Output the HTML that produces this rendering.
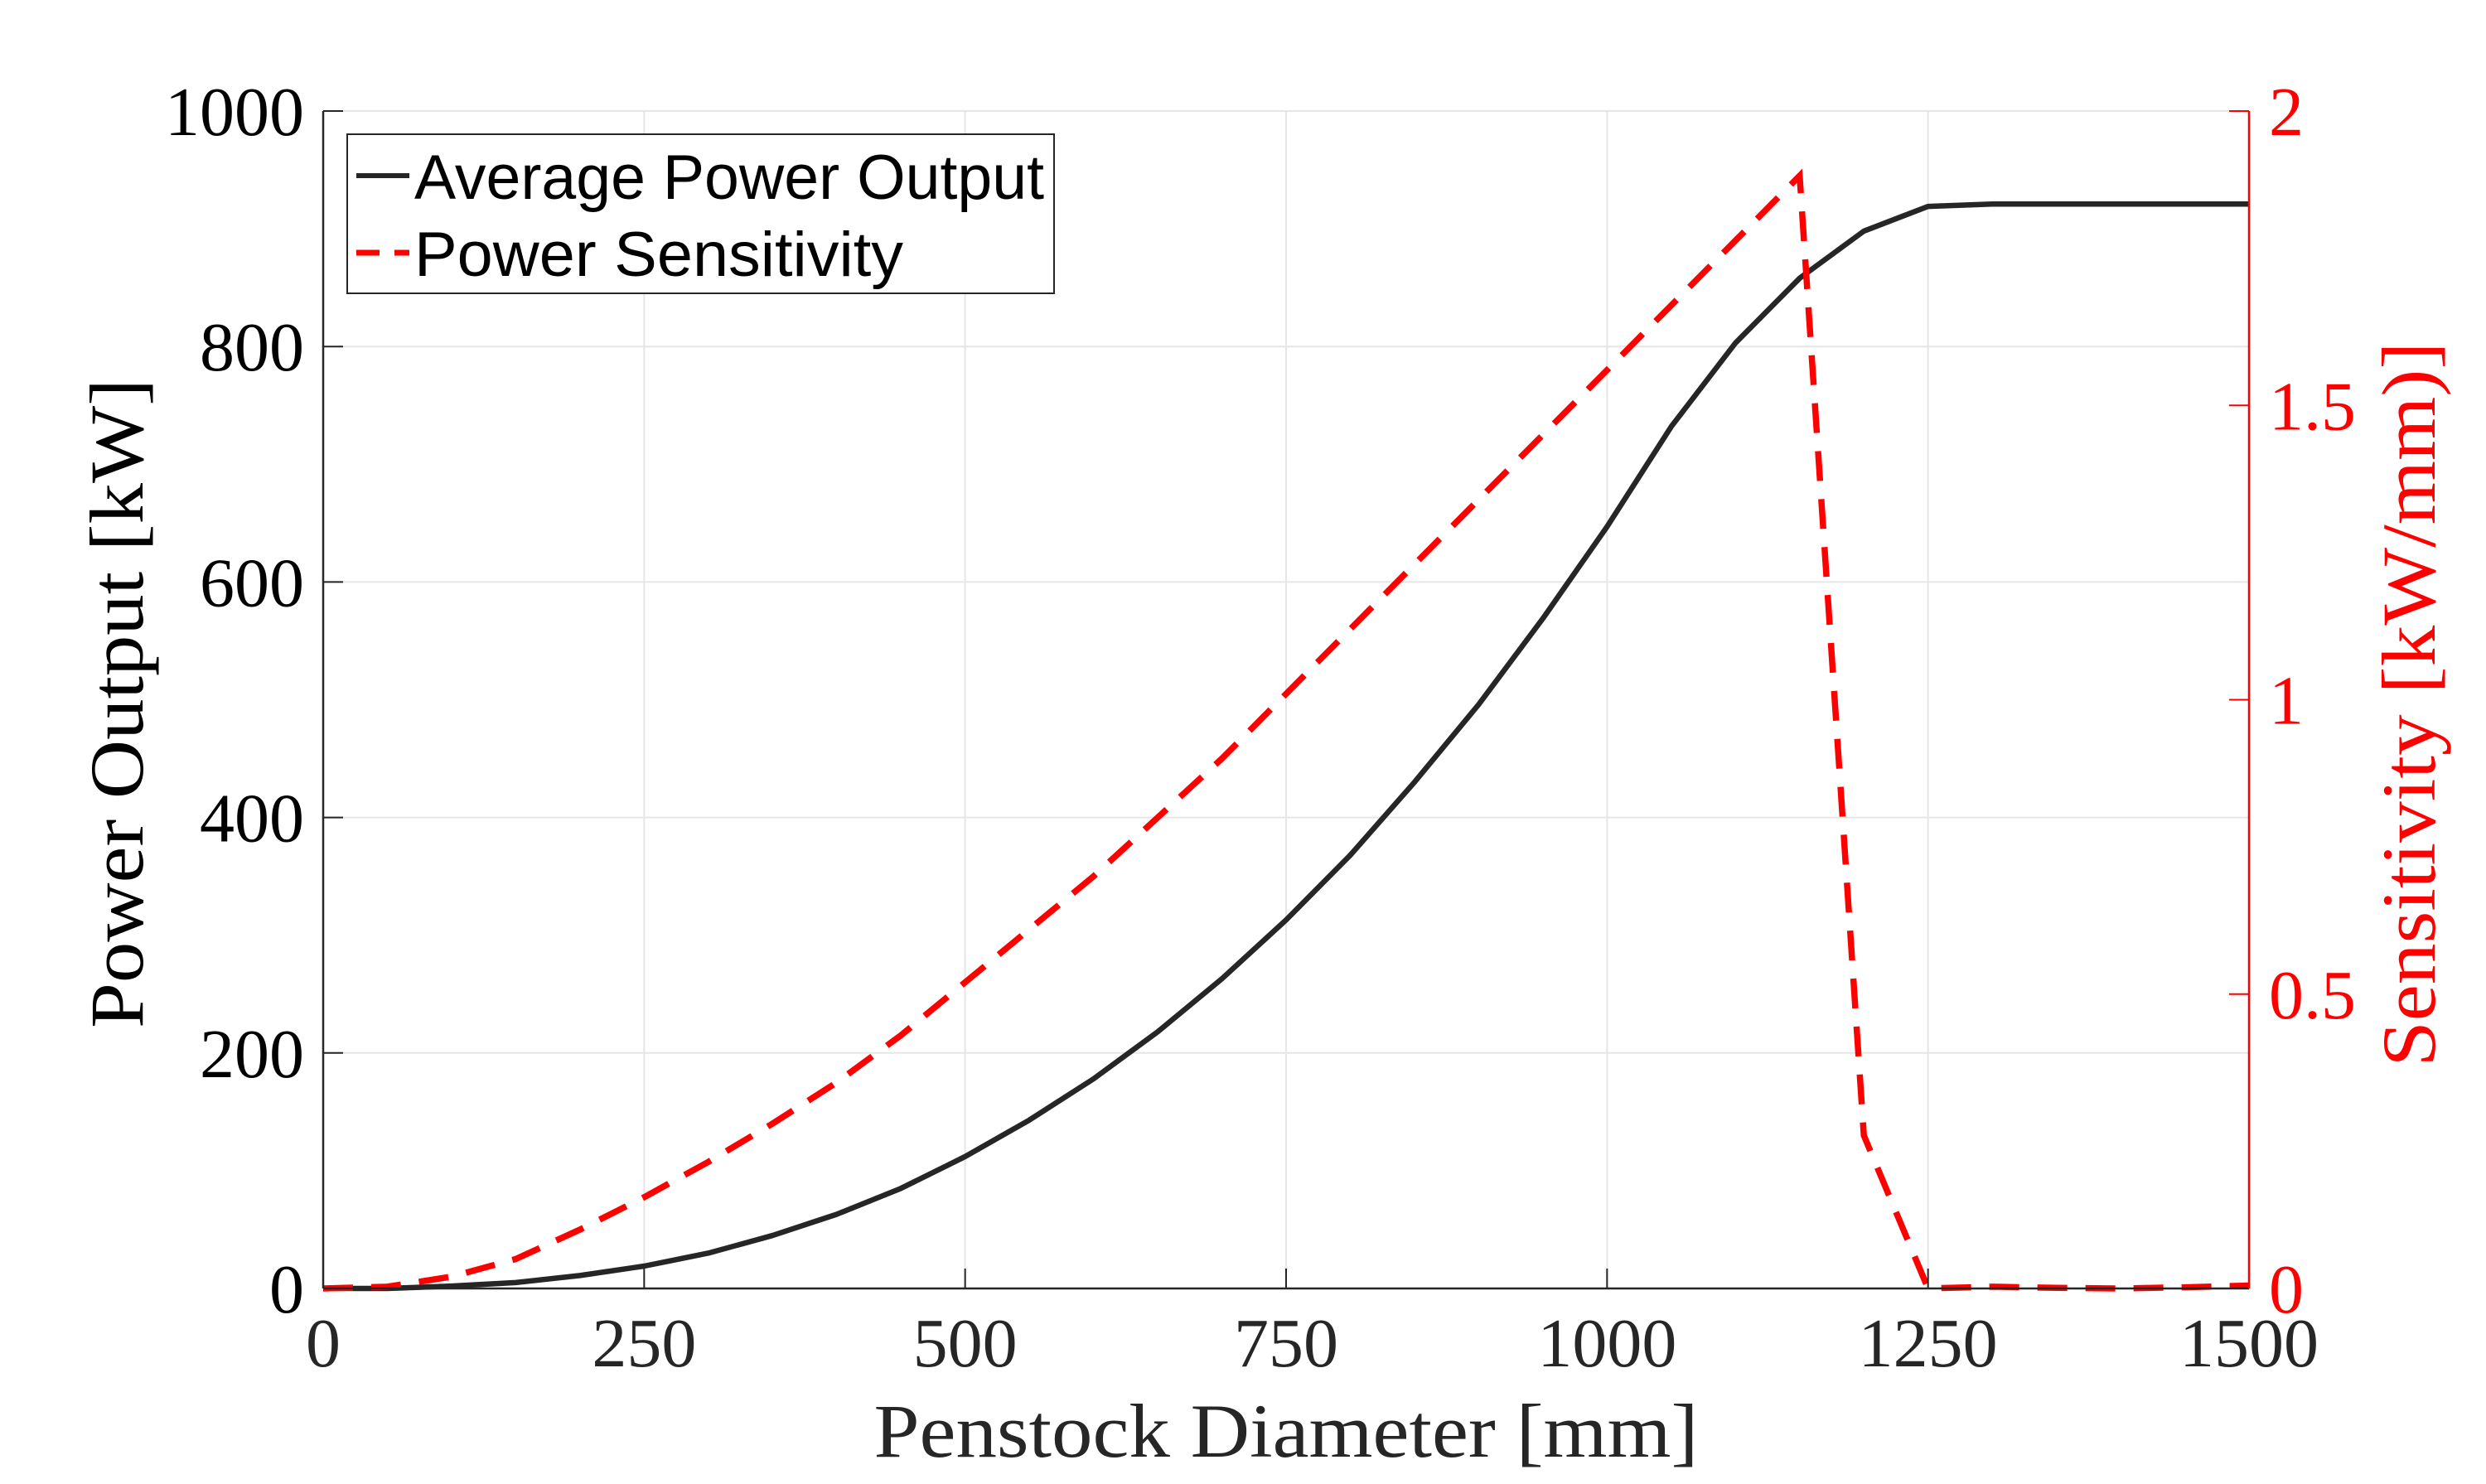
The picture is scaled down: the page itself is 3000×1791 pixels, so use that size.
<!DOCTYPE html>
<html><head><meta charset="utf-8"><style>
html,body{margin:0;padding:0;background:#fff;}
svg{display:block;}
</style></head><body>
<svg id="chart" width="3000" height="1791" viewBox="0 0 3000 1791" xmlns="http://www.w3.org/2000/svg">
<rect width="3000" height="1791" fill="#fff"/>
<g id="grid"></g>
<g id="series"></g>
<g id="axes"></g>
<text x="1552" y="1758" font-family="Liberation Serif, serif" font-size="92" text-anchor="middle" textLength="995" lengthAdjust="spacingAndGlyphs" fill="#262626">Penstock Diameter [mm]</text>
<text transform="translate(172,849) rotate(-90)" font-family="Liberation Serif, serif" font-size="92" text-anchor="middle" textLength="784" lengthAdjust="spacingAndGlyphs" fill="#000">Power Output [kW]</text>
<text transform="translate(2938,850) rotate(-90)" font-family="Liberation Serif, serif" font-size="92" text-anchor="middle" textLength="875" lengthAdjust="spacingAndGlyphs" fill="#ff0000">Sensitivity [kW/mm)]</text>
<g>
<rect x="419" y="162" width="853" height="192" fill="#fff" stroke="#262626" stroke-width="2"/>
<line x1="430" y1="212" x2="494" y2="212" stroke="#262626" stroke-width="6"/>
<text x="500" y="240" font-family="Liberation Sans, sans-serif" font-size="76" textLength="760" lengthAdjust="spacingAndGlyphs" fill="#000">Average Power Output</text>
<line x1="430" y1="305" x2="494" y2="305" stroke="#ff0000" stroke-width="7" stroke-dasharray="28,18"/>
<text x="500" y="333" font-family="Liberation Sans, sans-serif" font-size="76" textLength="590" lengthAdjust="spacingAndGlyphs" fill="#000">Power Sensitivity</text>
</g>
</svg>
<script>
const xs = [0,50,100,150,200,250,300,350,400,450,500,550,600,650,700,750,800,850,900,950,1000,1050,1100,1150,1200,1250,1300,1350,1400,1450,1500];
const power = [0,0,2,5,11,19,30,45,63,85,112,143,178,218,263,313,368,430,496,569,647,732,803,858,898,919,921,921,921,921,921];
const sensitivity = [0,0.003,0.02,0.05,0.1,0.155,0.215,0.28,0.35,0.43,0.52,0.61,0.7,0.8,0.9,1.01,1.12,1.23,1.34,1.45,1.56,1.67,1.78,1.89,0.26,0,0.003,0.001,0,0.002,0.005];
const xTicks = [0,250,500,750,1000,1250,1500];
const yLeftTicks = [0,200,400,600,800,1000];
const yRightTicks = [0,0.5,1,1.5,2];
const yRightLabels = ['0','0.5','1','1.5','2'];

const L=390, R=2714, T=134, B=1555;
const NS='http://www.w3.org/2000/svg';
const sx = v => L + (v-0)/(1500-0)*(R-L);
const syL = v => B - v/1000*(B-T);
const syR = v => B - v/2*(B-T);
function mk(tag, attrs, parent){const e=document.createElementNS(NS,tag);for(const k in attrs)e.setAttribute(k,attrs[k]);parent.appendChild(e);return e;}
const grid=document.getElementById('grid'), axes=document.getElementById('axes'), series=document.getElementById('series');

xTicks.forEach(t=>{
  const g=mk('line',{x1:sx(t),y1:T,x2:sx(t),y2:B,stroke:'#e6e6e6','stroke-width':2},grid);
  
  
  const tk=mk('line',{x1:sx(t),y1:B,x2:sx(t),y2:B-24,stroke:'#262626','stroke-width':2},axes);
  
  
  const lb=mk('text',{x:sx(t),y:1649,'font-family':'Liberation Serif, serif','font-size':84,'text-anchor':'middle',fill:'#262626'},axes);
  lb.textContent=t;
  
  
});
yLeftTicks.forEach(t=>{
  const g=mk('line',{x1:L,y1:syL(t),x2:R,y2:syL(t),stroke:'#e6e6e6','stroke-width':2},grid);
  
  
  const tk=mk('line',{x1:L,y1:syL(t),x2:L+24,y2:syL(t),stroke:'#262626','stroke-width':2},axes);
  
  
  const lb=mk('text',{x:367,y:syL(t)+29,'font-family':'Liberation Serif, serif','font-size':84,'text-anchor':'end',fill:'#000'},axes);
  lb.textContent=t;
  
  
});
yRightTicks.forEach((t,i)=>{
  const tk=mk('line',{x1:R,y1:syR(t),x2:R-24,y2:syR(t),stroke:'#ff0000','stroke-width':2},axes);
  
  
  const lb=mk('text',{x:2738,y:syR(t)+29,'font-family':'Liberation Serif, serif','font-size':84,'text-anchor':'start',fill:'#ff0000'},axes);
  lb.textContent=yRightLabels[i];
  
  
});
const ax1=mk('line',{x1:L,y1:B,x2:R,y2:B,stroke:'#262626','stroke-width':2.5},axes);


const ax2=mk('line',{x1:L,y1:T,x2:L,y2:B,stroke:'#262626','stroke-width':2.5},axes);


const ax3=mk('line',{x1:R,y1:T,x2:R,y2:B,stroke:'#ff0000','stroke-width':2.5},axes);



const p1=mk('polyline',{points:xs.map((x,i)=>sx(x)+','+syL(power[i])).join(' '),fill:'none',stroke:'#262626','stroke-width':6.5,'stroke-linejoin':'round'},series);


const p2=mk('polyline',{points:xs.map((x,i)=>sx(x)+','+syR(sensitivity[i])).join(' '),fill:'none',stroke:'#ff0000','stroke-width':7.5,'stroke-dasharray':'36,22'},series);


</script>
</body></html>
